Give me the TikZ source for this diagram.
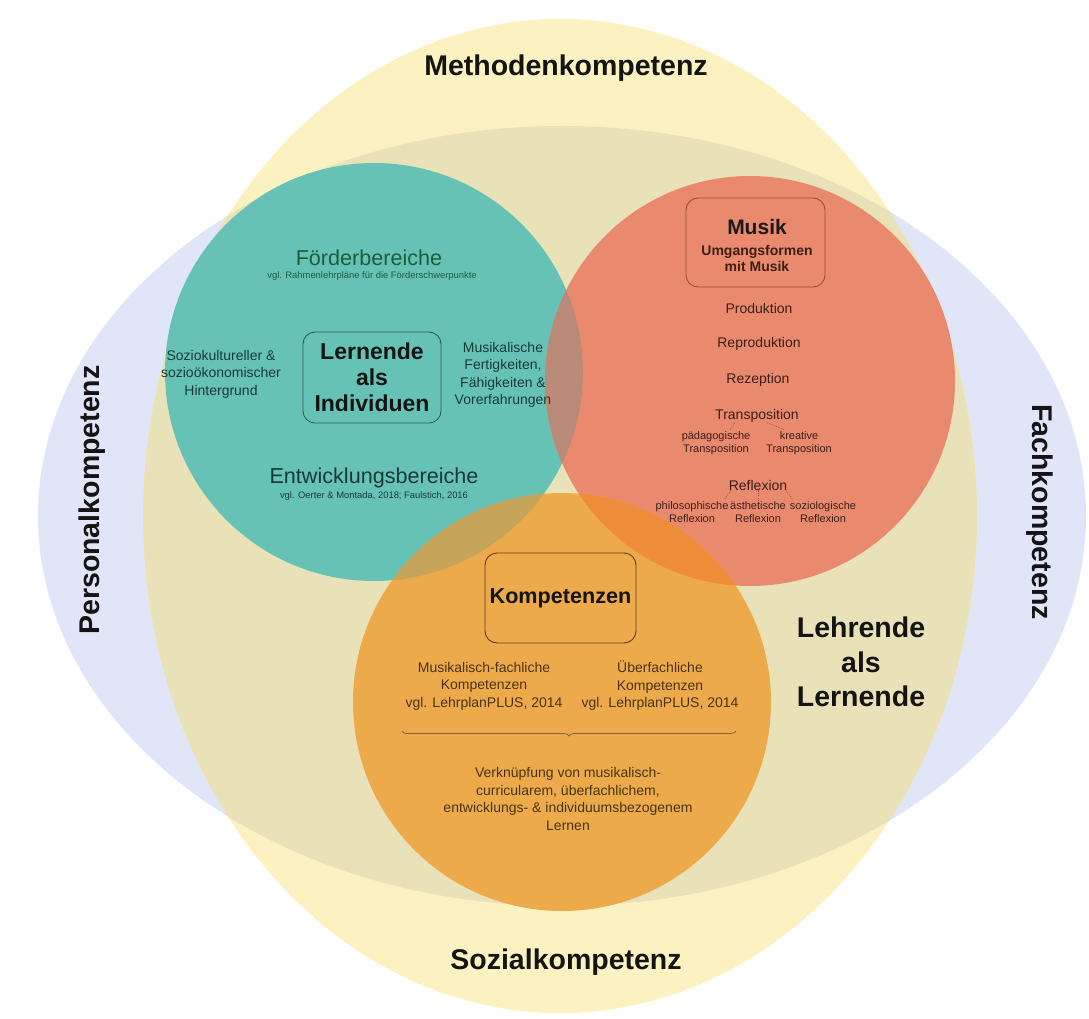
\documentclass[tikz,border=0pt]{standalone}
\usepackage{fontspec}
\setmainfont{Liberation Sans}
\usetikzlibrary{calc,decorations.pathreplacing}

\newcommand{\setfs}[2]{\fontsize{#1}{#2}\selectfont}

% background fields
\definecolor{blueE}{HTML}{E0E6F8}
\definecolor{yellowE}{HTML}{FCF1C0}
\definecolor{bothE}{HTML}{E9E2B8}
% circles and their overlaps
\definecolor{tealC}{HTML}{67C2B6}
\definecolor{salmonC}{HTML}{E98A6F}
\definecolor{orangeC}{HTML}{EDAA4B}
\definecolor{tsC}{HTML}{BA8A79}
\definecolor{toC}{HTML}{C6A55A}
\definecolor{soC}{HTML}{EF8C3A}
% text and frames
\definecolor{greenT}{HTML}{1E5C3A}
\definecolor{tealT}{HTML}{173A35}
\definecolor{brownT}{HTML}{3D1E15}
\definecolor{ochreT}{HTML}{4A3312}
\definecolor{tealB}{HTML}{2E5D55}
\definecolor{salmonB}{HTML}{9A4E3A}
\definecolor{orangeB}{HTML}{5C4019}

\tikzset{
  biglabel/.style={font=\bfseries\setfs{28.5}{34.5}, text=black!92, align=center, inner sep=0pt},
  headtxt/.style={font=\setfs{21.6}{24}, inner sep=0pt},
  subnote/.style={font=\setfs{9.4}{11}, inner sep=0pt},
  bodytxt/.style={font=\setfs{14}{17.5}, align=center, inner sep=0pt},
  smalltxt/.style={font=\setfs{11}{13.5}, align=center, inner sep=0pt, text=brownT},
  framebox/.style={rounded corners=12pt, line width=0.9pt, inner sep=0pt},
  tick/.style={draw=salmonB, line width=0.6pt, dash pattern=on 1.2pt off 1.2pt},
}

\begin{document}
\begin{tikzpicture}[x=1pt,y=-1pt]
\useasboundingbox (0,0) rectangle (1089,1019);

% the two competence ellipses
\fill[blueE] (562,516) ellipse [x radius=524, y radius=390];
\fill[yellowE] (560,516) ellipse [x radius=417, y radius=497];
\begin{scope}
  \clip (562,516) ellipse [x radius=524, y radius=390];
  \fill[bothE] (560,516) ellipse [x radius=417, y radius=497];
\end{scope}

% the three circles
\fill[tealC] (374,372) circle [radius=209];
\fill[salmonC] (750,381) circle [radius=205];
\fill[orangeC] (562,702) circle [radius=209];
\begin{scope}
  \clip (374,372) circle [radius=209];
  \fill[tsC] (750,381) circle [radius=205];
  \fill[toC] (562,702) circle [radius=209];
\end{scope}
\begin{scope}
  \clip (750,381) circle [radius=205];
  \fill[soC] (562,702) circle [radius=209];
\end{scope}

% outer labels
\node[biglabel] (meth) at (566,68) {Methodenkompetenz};
\node[biglabel] (sozial) at (566,962) {Sozialkompetenz};
\node[biglabel, rotate=90] (pers) at (92,500) {Personalkompetenz};
\node[biglabel, rotate=-90] (fach) at (1040,512) {Fachkompetenz};
\node[biglabel] (lehr) at (861,662) {Lehrende\\als\\Lernende};

% learners as individuals
\node[headtxt, text=greenT] (foerd) at (369,258) {Förderbereiche};
\node[subnote, text=greenT] (foerdsub) at (372,276) {vgl. Rahmenlehrpläne für die Förderschwerpunkte};
\node[headtxt, text=tealT] (entw) at (374,478) {Entwicklungsbereiche};
\node[subnote, text=tealT] (entwsub) at (374,496) {vgl. Oerter \& Montada, 2018; Faulstich, 2016};
\node[bodytxt, text=tealT] (sozio) at (221,374) {Soziokultureller \&\\sozioökonomischer\\Hintergrund};
\node[bodytxt, text=tealT] (fert) at (503,375) {Musikalische\\Fertigkeiten,\\Fähigkeiten \&\\Vorerfahrungen};
\node[framebox, draw=tealB, minimum width=138pt, minimum height=91pt,
      font=\bfseries\setfs{23}{26}, align=center, text=black!92] (lern) at (372,377.5) {Lernende\\als\\Individuen};

% music
\node[framebox, draw=salmonB, minimum width=139pt, minimum height=89pt] (musikbox) at (755.5,242.5) {};
\node[font=\bfseries\setfs{21}{24}, inner sep=0pt, text=black!90] (musik) at (757,227) {Musik};
\node[font=\bfseries\setfs{14}{16}, align=center, inner sep=0pt, text=brownT] (umg) at (757,258) {Umgangsformen\\mit Musik};
\node[bodytxt, text=brownT] (prod) at (759,308) {Produktion};
\node[bodytxt, text=brownT] (reprod) at (759,344) {Reproduktion};
\node[bodytxt, text=brownT] (rezep) at (758,380) {Rezeption};
\node[bodytxt, text=brownT] (trans) at (757,416) {Transposition};
\node[smalltxt] (ped) at (716,443) {pädagogische\\Transposition};
\node[smalltxt] (kre) at (799,443) {kreative\\Transposition};
\node[bodytxt, text=brownT] (refl) at (758,485) {Reflexion};
\node[smalltxt] (phil) at (692,512) {philosophische\\Reflexion};
\node[smalltxt] (aest) at (758,512) {ästhetische\\Reflexion};
\node[smalltxt] (soziol) at (823,512) {soziologische\\Reflexion};

\draw[tick] ($(trans.south)+(-22,0)$) -- ($(ped.north)+(14,-1)$);
\draw[tick] ($(trans.south)+(10,0)$) -- ($(kre.north)+(-14,-1)$);
\draw[tick] ($(refl.south)+(-27,0)$) -- ($(phil.north)+(32,-1)$);
\draw[tick] ($(refl.south)+(0,0)$) -- ($(aest.north)+(0,-1)$);
\draw[tick] ($(refl.south)+(28,0)$) -- ($(soziol.north)+(-30,-1)$);

% competences
\node[framebox, draw=orangeB, minimum width=151pt, minimum height=90pt,
      font=\bfseries\setfs{21.6}{24}, text=black!92] (komp) at (560.5,598) {Kompetenzen};
\node[bodytxt, text=ochreT] (fachl) at (484,686) {Musikalisch-fachliche\\Kompetenzen\\vgl. LehrplanPLUS, 2014};
\node[bodytxt, text=ochreT] (ueber) at (660,686) {Überfachliche\\Kompetenzen\\vgl. LehrplanPLUS, 2014};
\coordinate (braceL) at (402,731);
\coordinate (braceR) at (736,731);
\draw[draw=orangeB!80, line width=0.8pt, decorate, decoration={brace, mirror, amplitude=5pt}] (braceL) -- (braceR);
\node[bodytxt, text=ochreT] (verk) at (568,799) {Verknüpfung von musikalisch-\\curricularem, überfachlichem,\\entwicklungs- \& individuumsbezogenem\\Lernen};
\end{tikzpicture}
\end{document}
